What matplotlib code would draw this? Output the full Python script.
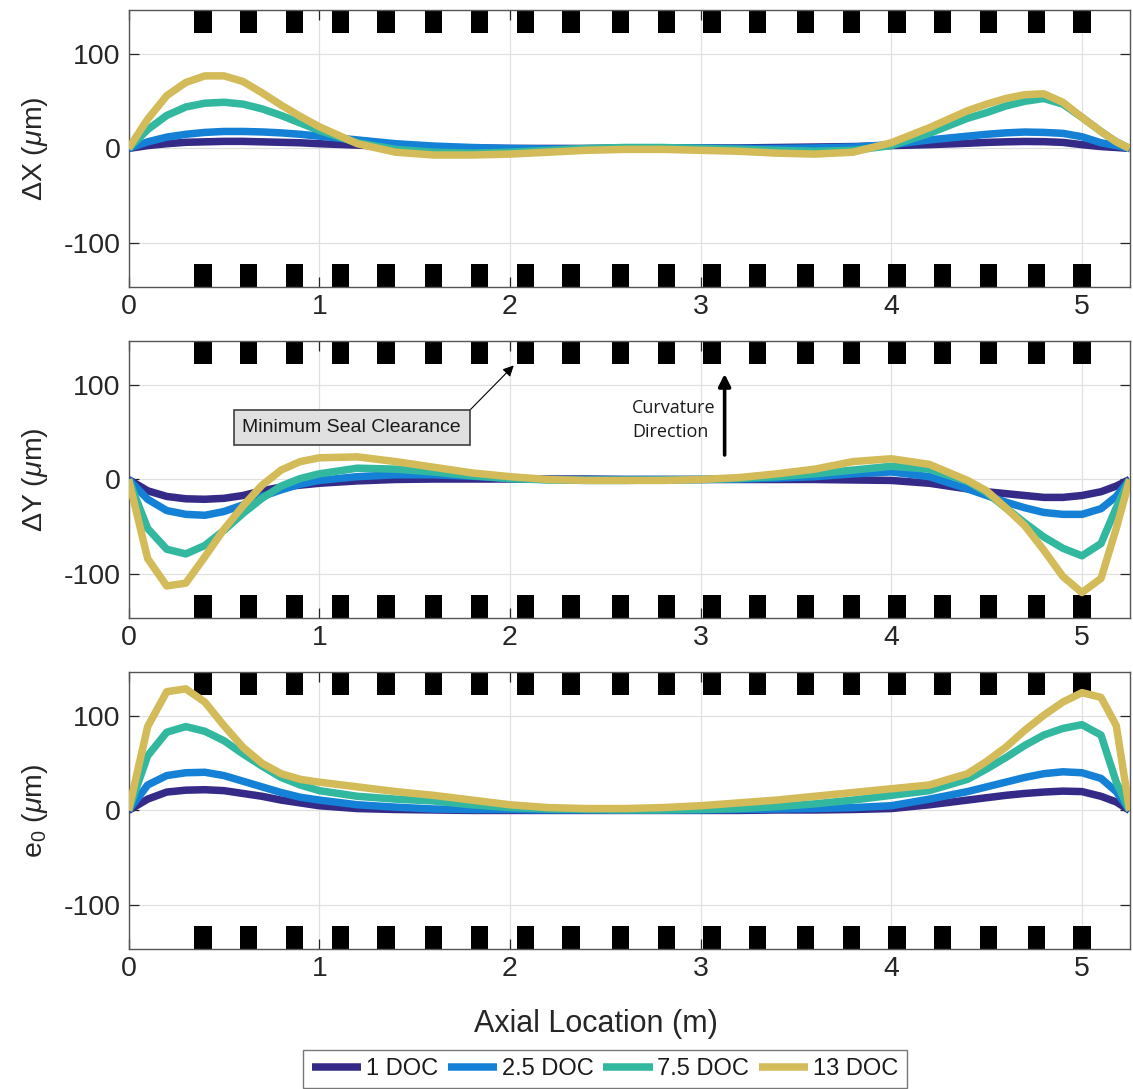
import matplotlib
matplotlib.use("Agg")
import matplotlib.pyplot as plt

plt.rcParams['font.family'] = ['Liberation Sans', 'DejaVu Sans']
plt.rcParams['axes.unicode_minus'] = False
plt.rcParams['mathtext.fontset'] = 'custom'
plt.rcParams['mathtext.rm'] = 'Liberation Sans'
plt.rcParams['mathtext.it'] = 'Liberation Sans:italic'

# axial positions (m)
x = [0, 0.1, 0.2, 0.3, 0.4, 0.5, 0.6, 0.7, 0.8, 0.9, 1.0,
     1.2, 1.4, 1.6, 1.8, 2.0, 2.2, 2.4, 2.6, 2.8, 3.0, 3.2, 3.4, 3.6, 3.8,
     4.0, 4.2, 4.4, 4.5, 4.6, 4.7, 4.8, 4.9, 5.0, 5.1, 5.18, 5.25]

labels = ['1 DOC', '2.5 DOC', '7.5 DOC', '13 DOC']
colors = ['#352A87', '#1481D6', '#33B8A0', '#D2BB58']

# delta X (um)
dx_1 = [0, 3, 5, 6.5, 7, 7.5, 7.5, 7, 6.5, 6, 5,
        3.5, 2, 1, 0.5, 0, 0, 0, 0.5, 0.5, 0.5, 0.5, 1, 1.5, 2,
        3, 4, 5.5, 6.4, 7, 7.4, 7.2, 6.4, 4, 2, 1, 0]
dx_25 = [0, 7, 12, 15, 17, 18, 18, 17.5, 16.5, 15, 13,
         9, 5, 2.5, 1, 0, -0.5, -0.5, 0, 0.5, 0.5, 0, 0, 0.5, 1.5,
         4, 9, 13, 15, 16.5, 17.4, 17, 16, 12.4, 6, 3, 0]
dx_75 = [0, 20, 35, 44, 48, 49, 47, 42, 35, 27, 19,
         6, -1, -4, -5, -4, -2, 0, 1, 1, 0, -1, -2, -3, -2,
         3, 16, 32, 38, 45, 50, 53, 47, 33, 18, 7, 0]
dx_13 = [0, 31, 56, 70, 77, 77, 71, 59, 46, 34, 23,
         5, -4, -7, -7, -6, -4, -2, -1, -1, -2, -3, -5, -6, -4,
         6, 22, 40, 47, 53, 57, 58, 49, 33, 18, 7, 0]

# delta Y (um)
dy_1 = [0, -12, -18, -20.5, -21, -20, -17, -12, -8, -6, -4,
        -1.5, 0, 0.5, 0.5, 0.5, 0.5, 0.5, 0, 0, 0, 0, 0, 0, -0.5,
        -1, -4, -10, -13, -15, -17, -19, -19, -17, -13, -7, 0]
dy_25 = [0, -21, -33, -37, -38, -34, -27, -18, -11, -5, -1,
         3, 5, 5, 3.5, 1, 0, 0, 0, 0, 0, 0.5, 1.5, 3, 6,
         8, 3, -10, -17, -24, -30, -35, -37, -37, -31, -18, 0]
dy_75 = [0, -52, -74, -79, -70, -54, -36, -20, -7, 1, 6,
         12, 11, 8, 4, 1, -0.5, -1, -1, -0.5, 0, 1, 3, 6, 10,
         14, 11, -2, -14, -30, -46, -61, -73, -81, -68, -30, 0]
dy_13 = [0, -84, -113, -110, -82, -53, -28, -6, 10, 19, 23,
         24, 19, 13, 7, 3, 0, -1, -1, -1, 0, 2, 6, 11, 19,
         22, 16, -1, -12, -30, -49, -75, -103, -120, -105, -52, 0]

# e0 (um)
e0_1 = [0, 12, 19.5, 21.5, 22, 21, 18, 15, 11, 8, 5,
        2, 1, 0.5, 0, 0, 0, 0, 0, 0, 0, 0, 0.5, 0.5, 1,
        2, 6, 11, 13.5, 16, 18, 19.5, 20.5, 20, 15, 9, 0]
e0_25 = [0, 27, 37, 40, 40.5, 37, 31, 25, 19, 14, 11,
         6, 3.5, 1.5, 1, 1, 0.5, 0.5, 0.5, 0.5, 0.5, 1, 1.5, 2, 3,
         5, 12, 20, 25, 30, 35, 39, 41, 40, 34, 20, 0]
e0_75 = [0, 58, 83, 89, 84, 74, 60, 47, 35, 27, 21,
         15, 12, 10, 6, 3, 1.5, 1, 0.5, 0.5, 1, 2, 4, 7, 11,
         16, 21, 33, 44, 56, 69, 80, 87, 91, 80, 30, 0]
e0_13 = [0, 89, 126, 129, 115, 90, 67, 50, 39, 33, 30,
         25, 20, 16, 11, 6, 3, 2, 2, 3, 5, 8, 11, 15, 19,
         23, 27, 39, 52, 67, 85, 101, 115, 125, 120, 90, 0]

# seal locations (m)
seal_x = [0.39, 0.63, 0.87, 1.11, 1.35, 1.60, 1.84, 2.08, 2.32, 2.58,
          2.82, 3.06, 3.30, 3.55, 3.79, 4.03, 4.27, 4.51, 4.76, 5.00]

panels = [
    ('$\\Delta$X ($\\mu$m)', [dx_1, dx_25, dx_75, dx_13]),
    ('$\\Delta$Y ($\\mu$m)', [dy_1, dy_25, dy_75, dy_13]),
    ('e$_0$ ($\\mu$m)', [e0_1, e0_25, e0_75, e0_13]),
]
bottoms = [0.7365, 0.4325, 0.1286]

fig = plt.figure(figsize=(11.33, 10.89), dpi=100)
axes = []
for (ylab, series), b in zip(panels, bottoms):
    ax = fig.add_axes([0.1135, b, 0.8835, 0.2544])
    ax.grid(True, color='#e0e0e0', lw=0.9)
    ax.set_axisbelow(True)
    ax.bar(seal_x, 40, bottom=123, width=0.09, color='black', zorder=2)
    ax.bar(seal_x, -40, bottom=-123, width=0.09, color='black', zorder=2)
    for ys, c, lab in zip(series, colors, labels):
        ax.plot(x, ys, color=c, lw=5.4, label=lab, zorder=3,
                solid_joinstyle='round', solid_capstyle='butt')
    ax.set_xlim(0, 5.25)
    ax.set_ylim(-147, 147)
    ax.set_yticks([-100, 0, 100])
    ax.set_xticks([0, 1, 2, 3, 4, 5])
    ax.tick_params(direction='in', length=7, width=0.9, top=True, right=True,
                   labelsize=20.5, colors='#262626')
    ax.tick_params(axis='y', pad=6)
    ax.tick_params(axis='x', pad=5)
    for s in ax.spines.values():
        s.set_color('#555555')
        s.set_linewidth(1.0)
    ax.set_ylabel(ylab, fontsize=20.5, color='#262626')
    ax.yaxis.set_label_coords(-0.079, 0.5)
    axes.append(ax)

ax3 = axes[2]
ax3.set_xlabel('Axial Location (m)', fontsize=22, color='#262626')
ax3.xaxis.set_label_coords(0.467, -0.215)

ax2 = axes[1]
ax2.annotate('Minimum Seal Clearance', xy=(2.02, 121), xytext=(1.17, 55),
             ha='center', va='center', fontsize=14, color='#1a1a1a',
             bbox=dict(boxstyle='square,pad=0.45', fc='#e0e0e0', ec='#404040', lw=1.2),
             arrowprops=dict(arrowstyle='-|>', color='black', lw=0.8,
                             mutation_scale=16, relpos=(1, 1), shrinkA=0, shrinkB=0),
             zorder=5)
ax2.text(2.64, 63, 'Curvature\nDirection', fontsize=13, family='Open Sans',
         ha='left', va='center', linespacing=1.45, color='#1a1a1a', zorder=5)
ax2.annotate('', xy=(3.126, 112), xytext=(3.126, 26),
             arrowprops=dict(arrowstyle='-|>', color='black', lw=2.6,
                             mutation_scale=18, shrinkA=0, shrinkB=0), zorder=5)

handles, labs = ax3.get_legend_handles_labels()
leg = fig.legend(handles, labs, loc='upper center', bbox_to_anchor=(0.534, 0.036),
                 ncol=4, fontsize=17, frameon=True, fancybox=False,
                 edgecolor='#555555', handlelength=2.1, handletextpad=0.2,
                 columnspacing=0.4, borderpad=0.35, borderaxespad=0)
leg.get_frame().set_linewidth(1.0)
for t in leg.get_texts():
    t.set_color('#1a1a1a')

fig.savefig('out.png', dpi=100)
